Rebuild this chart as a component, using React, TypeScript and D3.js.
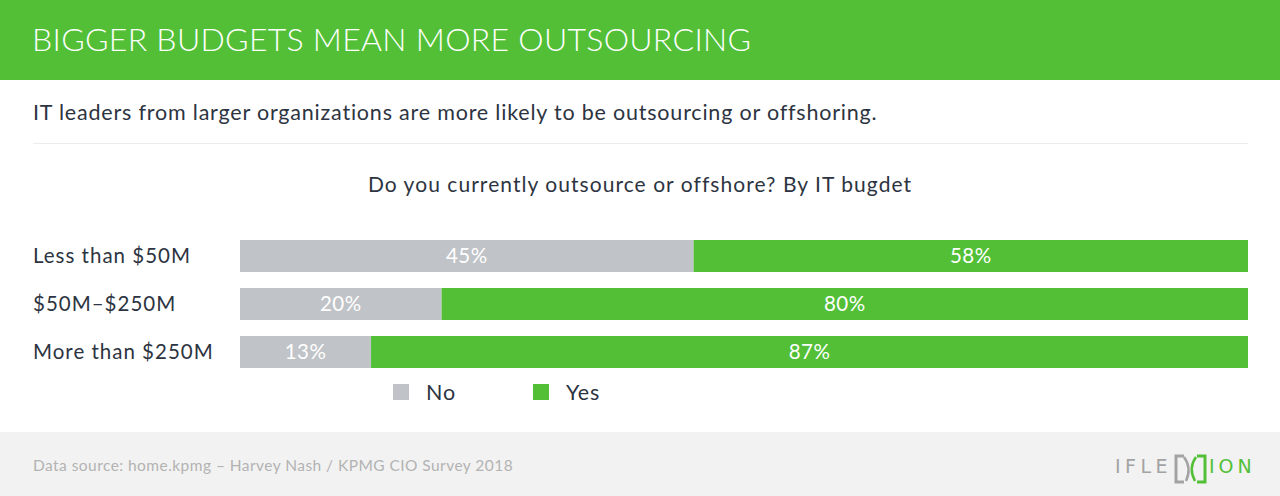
import React, { useEffect } from "react";
import * as d3 from "d3";

const categories = ["Less than $50M", "$50M–$250M", "More than $250M"];
const noValues = [45, 20, 13];
const yesValues = [58, 80, 87];
const seriesNames = ["No", "Yes"];
const title = "BIGGER BUDGETS MEAN MORE OUTSOURCING";
const subtitle = "IT leaders from larger organizations are more likely to be outsourcing or offshoring.";
const chartTitle = "Do you currently outsource or offshore? By IT bugdet";
const source = "Data source: home.kpmg – Harvey Nash / KPMG CIO Survey 2018";

const GREEN = "#52bf37";
const GRAY = "#c0c3c7";
const TEXT = "#2d3441";
const FONT = "Lato, 'Open Sans', sans-serif";

export default function App() {
  useEffect(() => {
    document.body.style.margin = "0";
  }, []);

  const W = 1280;
  const H = 496;
  const x = d3.scaleLinear().domain([0, 100]).range([240, 1248]);
  const y = d3
    .scaleBand<string>()
    .domain(categories)
    .range([232, 376])
    .paddingInner(1 / 3)
    .paddingOuter(1 / 6);

  const rows = categories.map((c, i) => ({
    c,
    no: noValues[i],
    yes: yesValues[i],
  }));

  return (
    <svg width={W} height={H} style={{ display: "block" }} fontFamily={FONT}>
      <rect x={0} y={0} width={W} height={80} fill={GREEN} />
      <text x={32} y={51} fill="#fff" fontSize={32} fontWeight={300} letterSpacing={0.3}>
        {title}
      </text>
      <text x={33} y={120} fill={TEXT} fontSize={21.5} letterSpacing={0.8}>
        {subtitle}
      </text>
      <line x1={33} x2={1248} y1={143.5} y2={143.5} stroke="#ececec" strokeWidth={1} />
      <text x={640} y={192} fill={TEXT} fontSize={21} letterSpacing={1.05} textAnchor="middle">
        {chartTitle}
      </text>

      {rows.map((r) => {
        const y0 = y(r.c)!;
        const bw = y.bandwidth();
        const xNoEnd = x(r.no);
        const xYesEnd = x(Math.min(100, r.no + r.yes));
        const cy = y0 + bw / 2 + 7;
        return (
          <g key={r.c}>
            <text x={33} y={cy} fill={TEXT} fontSize={20.5} letterSpacing={1}>
              {r.c}
            </text>
            <rect x={x(0)} y={y0} width={xNoEnd - x(0)} height={bw} fill={GRAY} />
            <rect x={xNoEnd} y={y0} width={xYesEnd - xNoEnd} height={bw} fill={GREEN} />
            <text x={(x(0) + xNoEnd) / 2} y={cy} fill="#fff" fontSize={20.5} letterSpacing={0.5} textAnchor="middle">
              {r.no}%
            </text>
            <text x={(xNoEnd + xYesEnd) / 2} y={cy} fill="#fff" fontSize={20.5} letterSpacing={0.5} textAnchor="middle">
              {r.yes}%
            </text>
          </g>
        );
      })}

      {seriesNames.map((s, i) => (
        <g key={s} transform={`translate(${393 + i * 140},384)`}>
          <rect x={0} y={0} width={16} height={16} fill={i === 0 ? GRAY : GREEN} />
          <text x={33} y={15.5} fill={TEXT} fontSize={21.5} letterSpacing={0.8}>
            {s}
          </text>
        </g>
      ))}

      <rect x={0} y={432} width={W} height={64} fill="#f2f2f2" />
      <text x={33} y={471} fill="#b3b3b3" fontSize={15.5} letterSpacing={0.45}>
        {source}
      </text>

      <g>
        <text x={1115} y={473} fill="#a3a3a3" fontSize={19} letterSpacing={4.5} fontFamily="'DejaVu Sans', sans-serif">
          IFLE
        </text>
        <path d="M1184,456 L1176,456 L1176,482 L1184,482" fill="none" stroke="#a3a3a3" strokeWidth={3} />
        <path d="M1184,457 Q1192,468 1186,481" fill="none" stroke="#a3a3a3" strokeWidth={2.5} />
        <path d="M1197,456 L1205,456 L1205,482 L1197,482" fill="none" stroke={GREEN} strokeWidth={3} />
        <path d="M1196,457 Q1188,468 1195,481" fill="none" stroke={GREEN} strokeWidth={2.5} />
        <text x={1209} y={473} fill={GREEN} fontSize={19} letterSpacing={4} fontFamily="'DejaVu Sans', sans-serif">
          ION
        </text>
      </g>
    </svg>
  );
}
